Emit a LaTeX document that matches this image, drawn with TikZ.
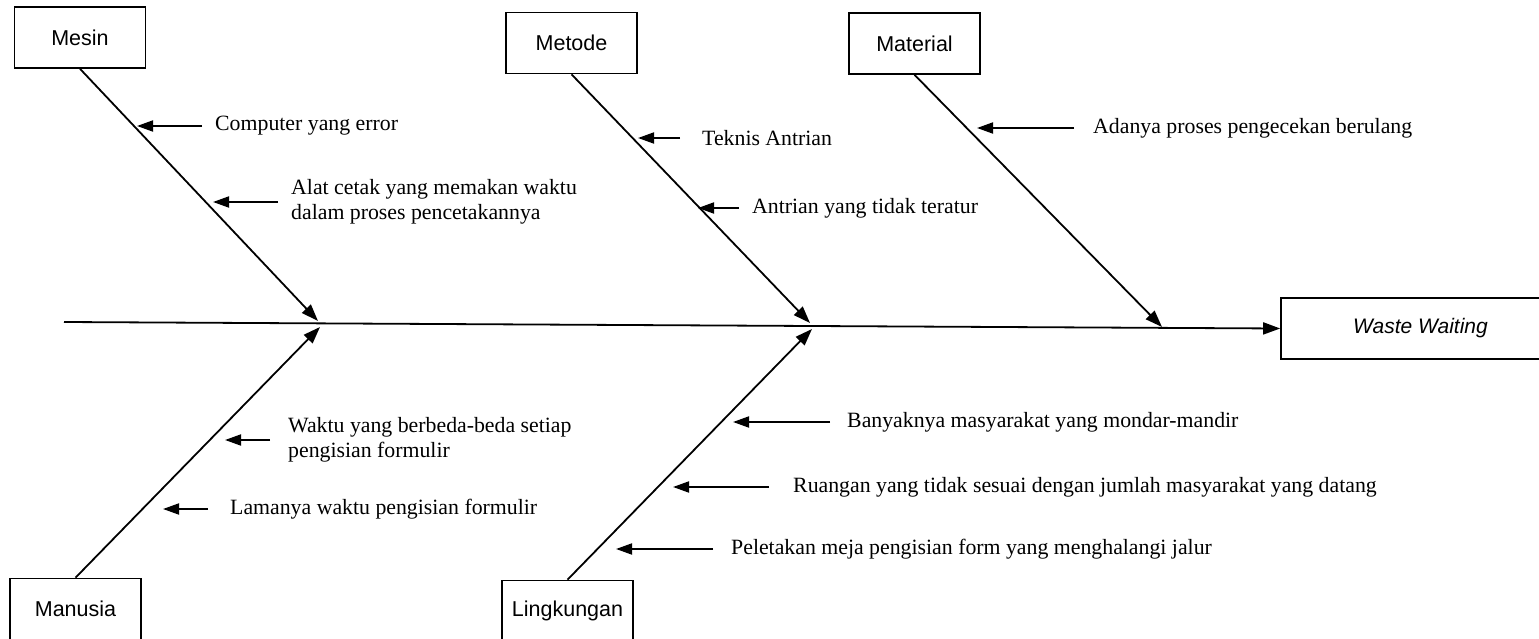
\documentclass[tikz,border=0pt]{standalone}
\usepackage{fontspec}
\setmainfont{Liberation Serif}
\newfontfamily\boxfont{Liberation Sans}
\usetikzlibrary{arrows.meta}
\begin{document}
\begin{tikzpicture}[x=1pt,y=-1pt,
  catbox/.style={draw, line width=1.6pt, inner sep=0pt, minimum width=131pt, minimum height=61pt,
                 font=\boxfont\fontsize{21.5}{25}\selectfont},
  causetext/.style={font=\fontsize{21.8}{25}\selectfont, anchor=west, inner sep=0pt, align=left},
  bone/.style={line width=1.8pt, -{Triangle[length=17pt,width=12pt]}},
  twig/.style={line width=1.8pt, -{Triangle[length=16pt,width=11pt]}}]
\fill[white] (0,0) rectangle (1539,639);
\useasboundingbox (0,0) rectangle (1539,639);

% category boxes
\node[catbox] (mesin)    at (80,37.5)  {Mesin};
\node[catbox] (metode)   at (571.5,43) {Metode};
\node[catbox] (material) at (914.5,43.5) {Material};
\node[catbox] (manusia)  at (75.5,609) {Manusia};
\node[catbox] (lingk)    at (567.5,611) {Lingkungan};
\node[catbox, minimum width=279pt, font=\boxfont\itshape\fontsize{21}{25}\selectfont]
     (effect) at (1420.5,328.5) {Waste Waiting};

% spine
\coordinate (tail) at (64,322);
\draw[bone] (tail) -- (effect.west);

% points where the bones meet the spine
\coordinate (jMesin)    at (318,321);
\coordinate (jManusia)  at (320,327);
\coordinate (jMetode)   at (810,323);
\coordinate (jLingk)    at (812,329);
\coordinate (jMaterial) at (1162,327);

\draw[bone] (mesin.south)    -- (jMesin);
\draw[bone] (metode.south)   -- (jMetode);
\draw[bone] (material.south) -- (jMaterial);
\draw[bone] (manusia.north)  -- (jManusia);
\draw[bone] (lingk.north)    -- (jLingk);

% causes
\node[causetext] (t1)  at (215,126) {Computer yang error};
\node[causetext] (t2)  at (291,202) {Alat cetak yang memakan waktu\\dalam proses pencetakannya};
\node[causetext] (t3)  at (702,138) {Teknis Antrian};
\node[causetext] (t4)  at (752,208) {Antrian yang tidak teratur};
\node[causetext] (t5)  at (1093,128) {Adanya proses pengecekan berulang};
\node[causetext] (t6)  at (288,440) {Waktu yang berbeda-beda setiap\\pengisian formulir};
\node[causetext] (t7)  at (230,509) {Lamanya waktu pengisian formulir};
\node[causetext] (t8)  at (847,422) {Banyaknya masyarakat yang mondar-mandir};
\node[causetext] (t9)  at (793,487) {Ruangan yang tidak sesuai dengan jumlah masyarakat yang datang};
\node[causetext] (t10) at (731,549) {Peletakan meja pengisian form yang menghalangi jalur};

\coordinate (c1)  at (137,126);
\coordinate (c2)  at (213,202);
\coordinate (c3)  at (638,138);
\coordinate (c4)  at (698,208);
\coordinate (c5)  at (977,128);
\coordinate (c6)  at (225,440);
\coordinate (c7)  at (163,509);
\coordinate (c8)  at (733,422);
\coordinate (c9)  at (673,487);
\coordinate (c10) at (616,549);

\draw[twig, shorten <=13pt] (t1.west)  -- (c1);
\draw[twig, shorten <=13pt] (t2.west)  -- (c2);
\draw[twig, shorten <=22pt] (t3.west)  -- (c3);
\draw[twig, shorten <=13pt] (t4.west)  -- (c4);
\draw[twig, shorten <=19pt] (t5.west)  -- (c5);
\draw[twig, shorten <=18pt] (t6.west)  -- (c6);
\draw[twig, shorten <=22pt] (t7.west)  -- (c7);
\draw[twig, shorten <=17pt] (t8.west)  -- (c8);
\draw[twig, shorten <=24pt] (t9.west)  -- (c9);
\draw[twig, shorten <=18pt] (t10.west) -- (c10);
\end{tikzpicture}
\end{document}
